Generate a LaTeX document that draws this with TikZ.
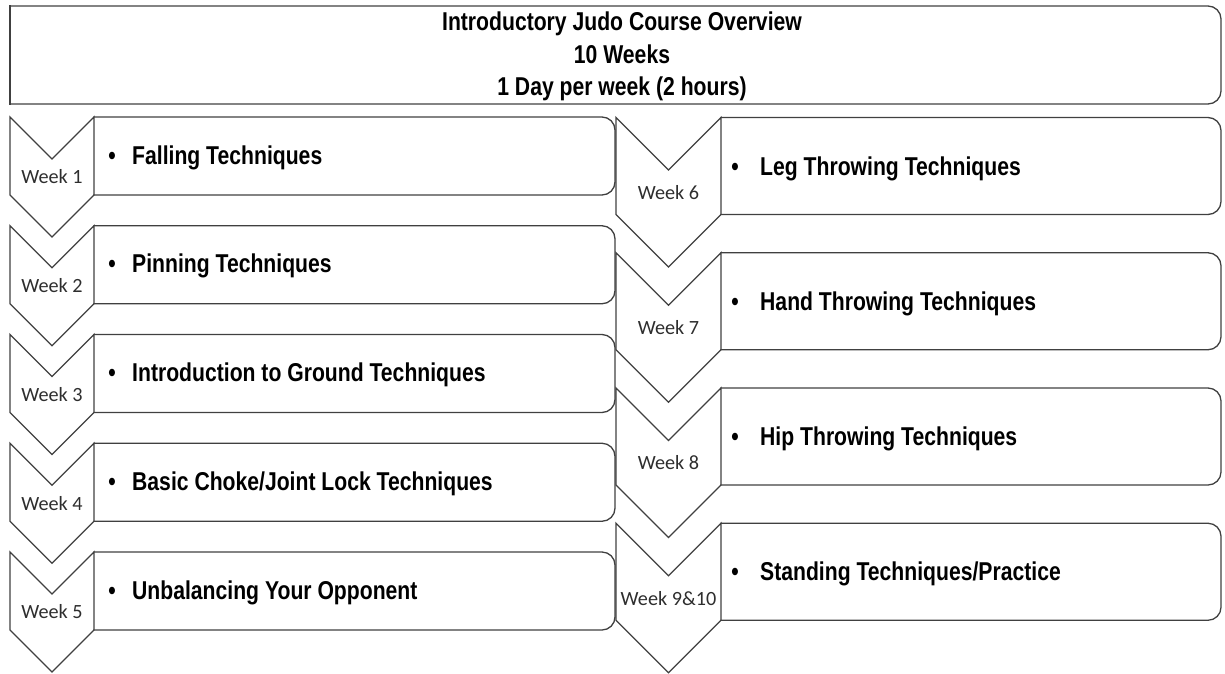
\documentclass[tikz,border=0pt]{standalone}
\usepackage{fontspec}
\newfontfamily\narrowfont{Liberation Sans}[FakeStretch=0.82]
\newfontfamily\weekfont{Carlito}
\tikzset{
  shapeline/.style={draw=black!75, line width=1.3pt, line cap=rect},
  topic/.style={font=\narrowfont\bfseries\fontsize{25.8}{30}\selectfont, anchor=base west, inner sep=0pt, text=black},
  bulletdot/.style={font=\narrowfont\bfseries\fontsize{25.8}{30}\selectfont, anchor=base, inner sep=0pt, text=black},
  weeklabel/.style={font=\weekfont\fontsize{20.2}{24}\selectfont, text=black!82, inner sep=0pt},
  titletext/.style={font=\narrowfont\bfseries\fontsize{25.8}{32.5}\selectfont, align=center, inner sep=0pt, text=black}
}
\newcommand\judoleft[4]{%
  \draw[shapeline] (10,#2) -- (52,#2+42) -- (94,#2) -- (94,#2+78) -- (52,#2+120) -- (10,#2+78) -- cycle;
  \draw[shapeline, rounded corners=13pt] (94,#2) -- (615,#2) -- (615,#2+78) -- (94,#2+78);
  \node[weeklabel] (#1w) at (52,#2+60) {Week #3};
  \node[bulletdot] (#1b) at (112,#2+47) {•};
  \node[topic] (#1t) at (132,#2+47) {#4};
}
\newcommand\judoright[4]{%
  \draw[shapeline] (616,#2) -- (668.5,#2+52.5) -- (721,#2) -- (721,#2+97) -- (668.5,#2+149.5) -- (616,#2+97) -- cycle;
  \draw[shapeline, rounded corners=13pt] (721,#2) -- (1221,#2) -- (1221,#2+97) -- (721,#2+97);
  \node[weeklabel] (#1w) at (668.5,#2+75) {Week #3};
  \node[bulletdot] (#1b) at (735,#2+57.5) {•};
  \node[topic] (#1t) at (760,#2+57.5) {#4};
}
\begin{document}
\begin{tikzpicture}[x=1pt,y=-1pt]
\useasboundingbox (0,0) rectangle (1225,673);
% title box
\draw[shapeline] (10,6) -- (10,104);
\draw[shapeline, rounded corners=13pt] (10,6) -- (1221,6) -- (1221,104) -- (10,104);
\node[titletext] (title) at (622,56.5) {Introductory Judo Course Overview\\10 Weeks\\1 Day per week (2 hours)};
% left column
\judoleft{wa}{117}{1}{Falling Techniques}
\judoleft{wb}{225.75}{2}{Pinning Techniques}
\judoleft{wc}{334.5}{3}{Introduction to Ground Techniques}
\judoleft{wd}{443.25}{4}{Basic Choke/Joint Lock Techniques}
\judoleft{we}{552}{5}{Unbalancing Your Opponent}
% right column
\judoright{wf}{117.5}{6}{Leg Throwing Techniques}
\judoright{wg}{252.75}{7}{Hand Throwing Techniques}
\judoright{wh}{388}{8}{Hip Throwing Techniques}
\judoright{wi}{523.25}{9\&10}{Standing Techniques/Practice}
\end{tikzpicture}
\end{document}
